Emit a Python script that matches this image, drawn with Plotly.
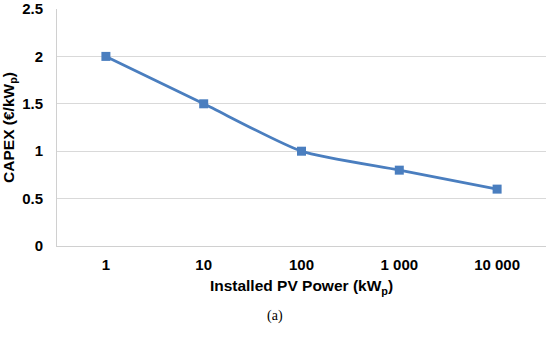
import plotly.graph_objects as go

categories = ["1", "10", "100", "1 000", "10 000"]
capex = [2.0, 1.5, 1.0, 0.8, 0.6]
y_ticks = [0, 0.5, 1, 1.5, 2, 2.5]
y_tick_labels = ["0", "0.5", "1", "1.5", "2", "2.5"]

color = "#4a7ebf"
fig = go.Figure()
fig.add_trace(go.Scatter(
    x=categories, y=capex, mode="lines+markers",
    line=dict(color=color, width=2.8, shape="spline", smoothing=0.6),
    marker=dict(symbol="square", size=9, color=color),
    showlegend=False,
))

fam = "Liberation Sans, Arial, sans-serif"
fig.update_layout(
    width=550, height=341,
    margin=dict(l=57, r=4, t=9, b=95),
    paper_bgcolor="white", plot_bgcolor="white",
    font=dict(family=fam, size=15, color="#000000"),
    xaxis=dict(
        type="category", categoryorder="array", categoryarray=categories,
        range=[-0.5, 4.5], automargin=False,
        showgrid=False, showline=True, linecolor="#d0d0d0", linewidth=1,
        ticks="outside", ticklen=5, tickcolor="rgba(0,0,0,0)",
        tickfont=dict(family=fam, size=15, color="#000000", weight="bold"),
        title=dict(text="<b>Installed PV Power (kW<sub>p</sub>)</b>",
                   font=dict(family=fam, size=15.5, color="#000000"), standoff=8),
        zeroline=False,
    ),
    yaxis=dict(
        range=[0, 2.5], tickvals=y_ticks, ticktext=y_tick_labels, automargin=False,
        ticklabeloverflow="allow",
        showgrid=True, gridcolor="#d9d9d9", gridwidth=1,
        showline=True, linecolor="#d0d0d0", linewidth=1,
        ticks="outside", ticklen=10, tickcolor="rgba(0,0,0,0)",
        tickfont=dict(family=fam, size=15, color="#000000", weight="bold"),
        title=dict(text="<b>CAPEX (€/kW<sub>p</sub>)</b>",
                   font=dict(family=fam, size=15.5, color="#000000"), standoff=5),
        zeroline=False,
    ),
)
fig.add_annotation(
    text="(a)", xref="paper", yref="paper", x=0.446, y=-0.295,
    yanchor="middle", xanchor="center", showarrow=False,
    font=dict(family="Liberation Serif, Times New Roman, serif", size=14, color="#000000"),
)
fig.write_html("out.html", config={"displayModeBar": False},
               post_script="document.body.style.margin='0';")
